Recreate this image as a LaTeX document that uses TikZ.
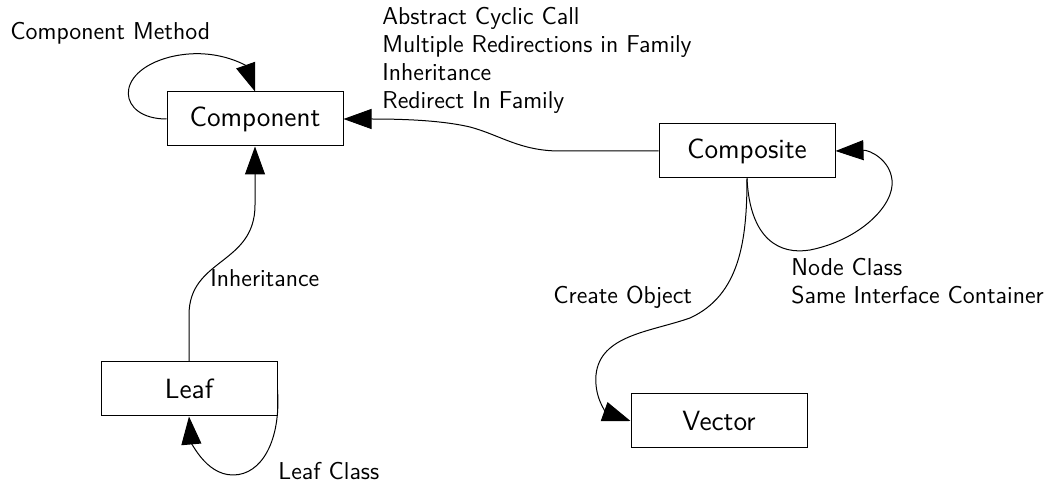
\documentclass[tikz,border=0pt]{standalone}
\usetikzlibrary{arrows.meta}
\begin{document}
\begin{tikzpicture}[x=0.5pt,y=-0.5pt,
  cls/.style={draw=black,line width=0.5pt,minimum width=88pt,minimum height=27pt,inner sep=0pt,
    font=\sffamily\fontsize{13.9}{16}\selectfont},
  lbl/.style={inner sep=0pt,align=left,font=\sffamily\fontsize{12.2}{14}\selectfont},
  rel/.style={line width=0.5pt,-{Triangle[length=14pt,width=10pt]}}]
\useasboundingbox (0,0) rectangle (1046,486);

% classes
\node[cls] (component) at (255,119) {Component};
\node[cls] (composite) at (747,151) {Composite};
\node[cls] (leaf) at (189,389) {Leaf};
\node[cls] (vector) at (719,421) {Vector};

% relations
\draw[rel] (component.west) .. controls (118,119) and (112,72) .. (170,57)
  .. controls (215,46) and (246,66) .. (component.north);
\node[lbl,anchor=west] (lcm) at (10,33) {Component Method};

\draw[rel] (composite.west) -- (560,151) .. controls (520,151) and (500,135) .. (470,127)
  .. controls (440,120) and (400,119) .. (component.east);
\node[lbl,anchor=north west] (lcc) at (382,7) {Abstract Cyclic Call\\Multiple Redirections in Family\\Inheritance\\Redirect In Family};

\draw[rel] (leaf.north) -- (189,315) .. controls (189,258) and (255,265) .. (255,205) -- (component.south);
\node[lbl,anchor=west] (linh) at (210,278) {Inheritance};

\draw[rel] ([yshift=-0.5pt]leaf.east) .. controls (281,440) and (262,475) .. (233,475)
  .. controls (205,475) and (191,440) .. (leaf.south);
\node[lbl,anchor=west] (llc) at (278,471) {Leaf Class};

\draw[rel] (composite.south) .. controls (747,240) and (740,295) .. (690,318)
  .. controls (650,332) and (600,335) .. (596,375) .. controls (594,400) and (608,413) .. (vector.west);
\node[lbl,anchor=west] (lco) at (553,297) {Create Object};

\draw[rel] (composite.south) .. controls (750,240) and (780,255) .. (810,250)
  .. controls (860,240) and (895,205) .. (892,180) .. controls (890,160) and (870,150) .. (composite.east);
\node[lbl,anchor=north west] (lnc) at (791,258) {Node Class\\Same Interface Container};
\end{tikzpicture}
\end{document}
